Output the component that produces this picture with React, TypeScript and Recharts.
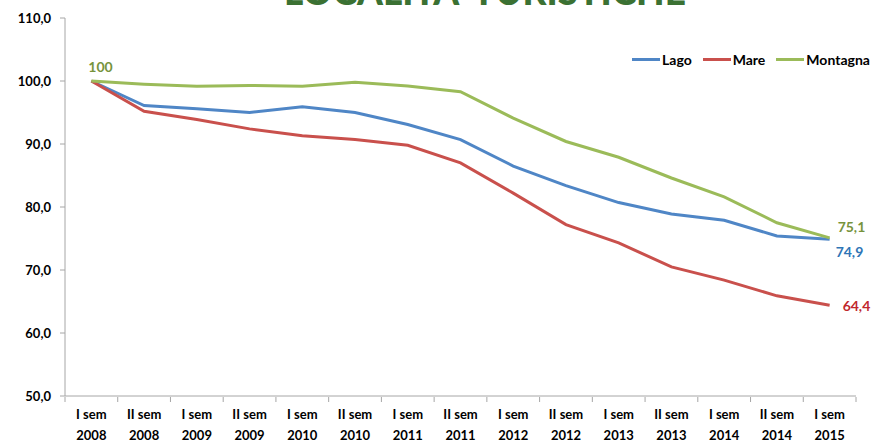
import { LineChart, Line, XAxis, YAxis } from 'recharts';

const semesters = [
  'I sem 2008', 'II sem 2008', 'I sem 2009', 'II sem 2009', 'I sem 2010',
  'II sem 2010', 'I sem 2011', 'II sem 2011', 'I sem 2012', 'II sem 2012',
  'I sem 2013', 'II sem 2013', 'I sem 2014', 'II sem 2014', 'I sem 2015',
];

const lago = [100, 96.1, 95.6, 95.0, 95.9, 95.0, 93.1, 90.7, 86.5, 83.4, 80.7, 78.9, 77.9, 75.4, 74.9];
const mare = [100, 95.2, 93.9, 92.4, 91.3, 90.7, 89.8, 87.0, 82.2, 77.2, 74.3, 70.5, 68.4, 65.9, 64.4];
const montagna = [100, 99.5, 99.15, 99.3, 99.15, 99.8, 99.2, 98.3, 94.1, 90.4, 87.9, 84.6, 81.6, 77.5, 75.1];

const yTicks = [50, 60, 70, 80, 90, 100, 110];

const data = semesters.map((label, i) => ({
  idx: i,
  label,
  lago: lago[i],
  mare: mare[i],
  montagna: montagna[i],
}));

const FONT = 'Lato, "Open Sans", sans-serif';
const BLUE = '#4F86C6';
const RED = '#C9504C';
const GREEN = '#9BBB59';

const fmt = (v: number) => (Number.isInteger(v) ? String(v) : v.toFixed(1).replace('.', ','));

// label only the chosen points, offset from the marker
function pointLabel(offsets: Record<number, [number, number]>, color: string) {
  return (props: any) => {
    const { x, y, index, value } = props;
    const off = offsets[index];
    if (!off) return null;
    return (
      <text key={index} x={x + off[0]} y={y + off[1]} fill={color} fontFamily={FONT} fontWeight={700} fontSize={14}>
        {fmt(Number(value))}
      </text>
    );
  };
}

function SemesterTick({ x, y, payload }: any) {
  const [a, b, c] = String(semesters[payload.value] ?? '').split(' ');
  return (
    <g transform={`translate(${x},${y})`}>
      <text textAnchor="middle" y={15} fill="#000" fontFamily={FONT} fontWeight={700} fontSize={13}>{`${a} ${b}`}</text>
      <text textAnchor="middle" y={36} fill="#000" fontFamily={FONT} fontWeight={700} fontSize={13}>{c}</text>
    </g>
  );
}

const NoLabel = () => <g />;

const legendItems = [
  { name: 'Lago', color: BLUE },
  { name: 'Mare', color: RED },
  { name: 'Montagna', color: GREEN },
];

const boundaries = semesters.map((_, i) => i - 0.5).concat(semesters.length - 0.5);

export default function App() {
  return (
    <div style={{ position: 'absolute', left: 0, top: 0, width: 882, height: 443, background: '#fff', overflow: 'hidden' }}>
      <svg width={882} height={443} style={{ position: 'absolute', left: 0, top: 0 }}>
        <text x={485} y={5} textAnchor="middle" fill="#3B7133" fontFamily={FONT} fontWeight={900} fontSize={37}>
          LOCALITA' TURISTICHE
        </text>
      </svg>
      <div style={{ position: 'absolute', left: 0, top: 0 }}>
        <LineChart width={882} height={443} data={data} margin={{ top: 18, right: 26, bottom: 0, left: 8 }}>
          {/* category labels, centred on each semester */}
          <XAxis
            xAxisId="cat"
            dataKey="idx"
            type="number"
            domain={[-0.5, semesters.length - 0.5]}
            ticks={semesters.map((_, i) => i)}
            tick={<SemesterTick />}
            tickLine={false}
            stroke="#A6A6A6"
            height={1}
            interval={0}
          />
          {/* tick marks between semesters */}
          <XAxis
            xAxisId="grid"
            dataKey="idx"
            type="number"
            domain={[-0.5, semesters.length - 0.5]}
            ticks={boundaries}
            tick={<NoLabel />}
            axisLine={false}
            tickLine={{ stroke: '#A6A6A6' }}
            tickSize={5}
            height={46}
            interval={0}
          />
          <YAxis
            domain={[50, 110]}
            ticks={yTicks}
            tickFormatter={(v: number) => v.toFixed(1).replace('.', ',')}
            tick={{ fill: '#000', fontFamily: FONT, fontWeight: 700, fontSize: 13 }}
            tickSize={5}
            tickMargin={9}
            width={57}
            stroke="#A6A6A6"
            interval={0}
          />
          <Line
            xAxisId="cat"
            dataKey="lago"
            stroke={BLUE}
            strokeWidth={3}
            dot={false}
            isAnimationActive={false}
            label={pointLabel({ 14: [6, 18] }, '#2E75B6')}
          />
          <Line
            xAxisId="cat"
            dataKey="mare"
            stroke={RED}
            strokeWidth={3}
            dot={false}
            isAnimationActive={false}
            label={pointLabel({ 14: [13, 6] }, '#C0272D')}
          />
          <Line
            xAxisId="cat"
            dataKey="montagna"
            stroke={GREEN}
            strokeWidth={3}
            dot={false}
            isAnimationActive={false}
            label={pointLabel({ 0: [-3, -9], 14: [8, -6] }, '#77933C')}
          />
        </LineChart>
      </div>
      <div
        style={{
          position: 'absolute',
          left: 632,
          top: 51,
          display: 'flex',
          alignItems: 'center',
          gap: 11,
          fontFamily: FONT,
          fontWeight: 700,
          fontSize: 14,
          color: '#000',
        }}
      >
        {legendItems.map((it) => (
          <div key={it.name} style={{ display: 'flex', alignItems: 'center' }}>
            <span style={{ display: 'inline-block', width: 28, height: 3, background: it.color, marginRight: 2 }} />
            <span>{it.name}</span>
          </div>
        ))}
      </div>
    </div>
  );
}
